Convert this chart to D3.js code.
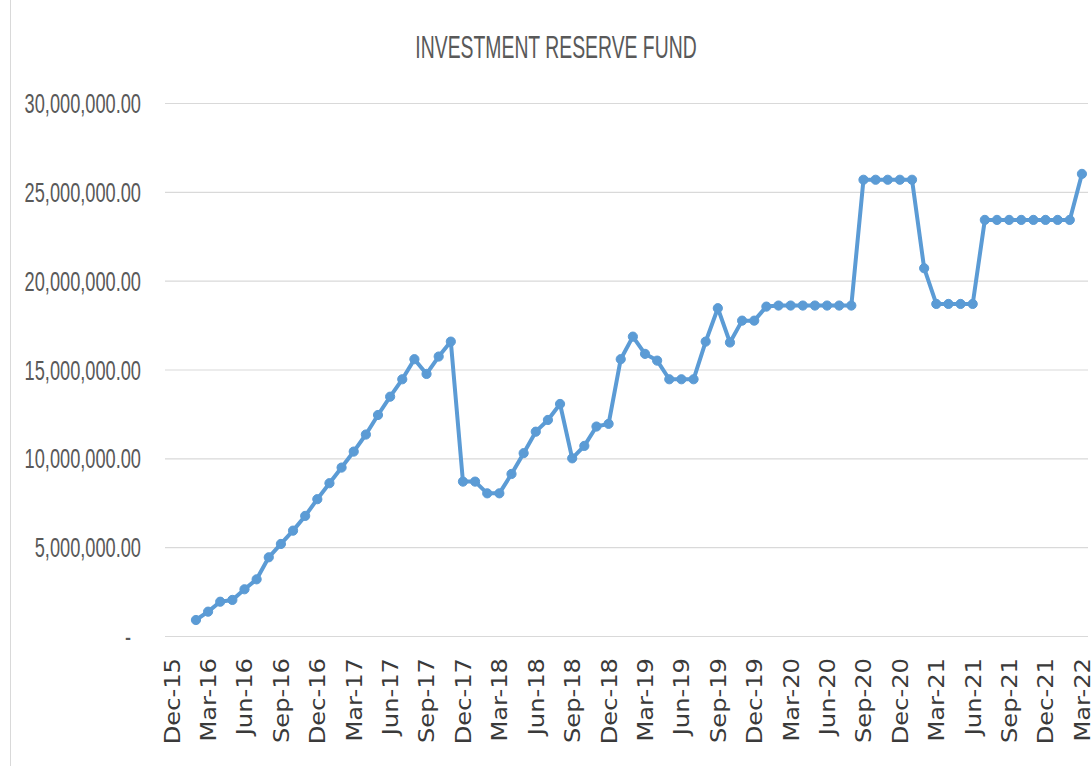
<!DOCTYPE html>
<html>
<head>
<meta charset="utf-8">
<script src="https://cdn.jsdelivr.net/npm/d3@7"></script>
<style>
  html, body { margin: 0; padding: 0; background: #fff; }
  svg { display: block; }
</style>
</head>
<body>
<svg id="chart" width="1091" height="766"></svg>
<script>
// ---- DATA ----
const title = "INVESTMENT RESERVE FUND";
const months = [
  "Feb-16","Mar-16","Apr-16","May-16","Jun-16","Jul-16","Aug-16","Sep-16","Oct-16","Nov-16","Dec-16",
  "Jan-17","Feb-17","Mar-17","Apr-17","May-17","Jun-17","Jul-17","Aug-17","Sep-17","Oct-17","Nov-17","Dec-17",
  "Jan-18","Feb-18","Mar-18","Apr-18","May-18","Jun-18","Jul-18","Aug-18","Sep-18","Oct-18","Nov-18","Dec-18",
  "Jan-19","Feb-19","Mar-19","Apr-19","May-19","Jun-19","Jul-19","Aug-19","Sep-19","Oct-19","Nov-19","Dec-19",
  "Jan-20","Feb-20","Mar-20","Apr-20","May-20","Jun-20","Jul-20","Aug-20","Sep-20","Oct-20","Nov-20","Dec-20",
  "Jan-21","Feb-21","Mar-21","Apr-21","May-21","Jun-21","Jul-21","Aug-21","Sep-21","Oct-21","Nov-21","Dec-21",
  "Jan-22","Feb-22","Mar-22"
];
const fundValues = [
  900000, 1370000, 1930000, 2030000, 2630000, 3190000, 4430000, 5180000, 5930000, 6760000, 7700000,
  8600000, 9480000, 10380000, 11340000, 12440000, 13470000, 14450000, 15580000, 14750000, 15730000, 16570000, 8690000,
  8690000, 8030000, 8030000, 9120000, 10290000, 11500000, 12160000, 13060000, 10000000, 10700000, 11790000, 11940000,
  15580000, 16850000, 15880000, 15500000, 14450000, 14450000, 14450000, 16570000, 18450000, 16520000, 17750000, 17750000,
  18540000, 18600000, 18600000, 18600000, 18600000, 18600000, 18600000, 18600000, 25680000, 25680000, 25680000, 25680000,
  25680000, 20700000, 18690000, 18690000, 18690000, 18690000, 23420000, 23420000, 23420000, 23420000, 23420000, 23420000,
  23420000, 23420000, 26010000
];
const xTickLabels = [
  "Dec-15","Mar-16","Jun-16","Sep-16","Dec-16","Mar-17","Jun-17","Sep-17","Dec-17",
  "Mar-18","Jun-18","Sep-18","Dec-18","Mar-19","Jun-19","Sep-19","Dec-19",
  "Mar-20","Jun-20","Sep-20","Dec-20","Mar-21","Jun-21","Sep-21","Dec-21","Mar-22"
];
const yTicks = [0, 5000000, 10000000, 15000000, 20000000, 25000000, 30000000];

// ---- HELPERS ----
const monNames = ["Jan","Feb","Mar","Apr","May","Jun","Jul","Aug","Sep","Oct","Nov","Dec"];
function monthIndex(lbl) {
  const [m, yy] = lbl.split("-");
  return (2000 + +yy - 2016) * 12 + monNames.indexOf(m);
}
const data = months.map((m, i) => ({ m: monthIndex(m), v: fundValues[i] }));

// ---- LAYOUT ----
const svg = d3.select("#chart");
const plotL = 165, plotR = 1088, plotT = 103, plotB = 636;

const x = d3.scaleLinear().domain([-1.55, 74.5]).range([plotL, plotR]);
const y = d3.scaleLinear().domain([0, 30000000]).range([plotB, plotT]);

// left border of the chart area
svg.append("line").attr("x1", 10.5).attr("x2", 10.5).attr("y1", 0).attr("y2", 766)
  .attr("stroke", "#d9d9d9").attr("stroke-width", 1);

// gridlines
const yAxis = d3.axisLeft(y).tickValues(yTicks).tickSize(-(plotR - plotL)).tickFormat("");
svg.append("g").attr("transform", `translate(${plotL},0)`).call(yAxis)
  .call(g => g.select(".domain").remove())
  .call(g => g.selectAll(".tick line").attr("stroke", "#d9d9d9").attr("stroke-width", 1.2));

// y labels
const fmt = d3.format(",.2f");
svg.append("g").selectAll("text").data(yTicks).join("text")
  .attr("transform", d => `translate(${d === 0 ? 131 : 141},${y(d)}) scale(0.70,1.08)`)
  .attr("dy", "0.36em")
  .attr("text-anchor", "end")
  .attr("font-family", "Liberation Sans, Arial, sans-serif")
  .attr("font-size", 26)
  .attr("fill", "#595959")
  .text(d => d === 0 ? "-" : fmt(d));

// x labels
svg.append("g").selectAll("text").data(xTickLabels).join("text")
  .attr("transform", d => `translate(${x(monthIndex(d))},658) rotate(-90) scale(1.1,1)`)
  .attr("dy", "0.36em")
  .attr("text-anchor", "end")
  .attr("font-family", "DejaVu Sans, sans-serif")
  .attr("font-size", 22)
  .attr("fill", "#3a3a3a")
  .text(d => d);

// title
svg.append("text")
  .attr("transform", `translate(556,58) scale(0.70,1.1)`)
  .attr("text-anchor", "middle")
  .attr("font-family", "Liberation Sans, Arial, sans-serif")
  .attr("font-size", 27.7)
  .attr("fill", "#595959")
  .text(title);

// line
const color = "#5B9BD5";
const line = d3.line().x(d => x(d.m)).y(d => y(d.v));
svg.append("path").datum(data)
  .attr("d", line)
  .attr("fill", "none")
  .attr("stroke", color)
  .attr("stroke-width", 4)
  .attr("stroke-linejoin", "round")
  .attr("stroke-linecap", "round");

svg.append("g").selectAll("circle").data(data).join("circle")
  .attr("cx", d => x(d.m))
  .attr("cy", d => y(d.v))
  .attr("r", 4.6)
  .attr("fill", color)
  .attr("stroke", color)
  .attr("stroke-width", 1);
</script>
</body>
</html>
